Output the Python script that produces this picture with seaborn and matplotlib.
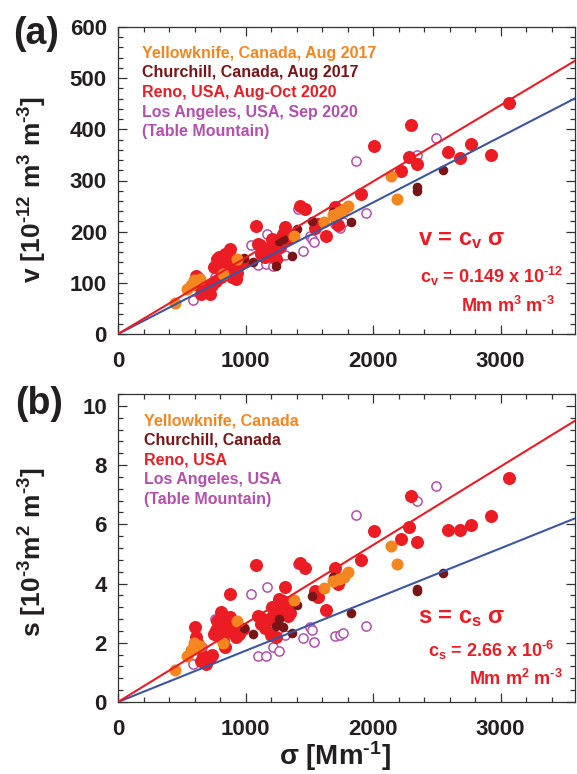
import numpy as np
import pandas as pd
import matplotlib
matplotlib.use("Agg")
import matplotlib.pyplot as plt
from matplotlib.ticker import MultipleLocator
import seaborn as sns

# ---------------- data ----------------
site_names = ["Yellowknife", "Churchill", "Reno", "Los Angeles"]

yk_sigma = [450, 540, 575, 595, 640, 822, 935, 1380, 1615, 1690, 1730, 1770, 1800, 2140, 2190]
yk_v = [60, 88, 95, 105, 108, 118, 147, 192, 218, 232, 238, 245, 251, 308, 264]
yk_s = [1.09, 1.57, 1.75, 1.99, 1.88, 1.99, 2.75, 3.43, 3.85, 4.10, 4.16, 4.21, 4.40, 5.26, 4.66]

ch_sigma = [990, 1060, 1240, 1260, 1295, 1365, 1400, 1520, 1690, 1825, 2345, 2345, 2545]
ch_v = [148, 140, 133, 182, 185, 153, 205, 220, 238, 219, 288, 279, 320]
ch_s = [2.50, 2.29, 2.58, 2.80, 2.53, 2.34, 3.26, 3.58, 4.21, 3.01, 3.80, 3.74, 4.35]

re_sigma = [3065, 2300, 2005, 2280, 2345, 2219, 2588, 2684, 2767, 2927, 1903, 1425, 1470, 1704,
            1080, 1313, 1544, 1566, 1628, 1729, 882,
            600, 615, 630, 648, 665, 690, 706, 720, 735, 750, 765, 778, 793, 805, 808, 820,
            836, 840, 862, 865, 879, 880, 893, 922, 935, 951, 977,
            1095, 1110, 1124, 1135, 1153, 1182, 1193, 1201, 1207, 1225, 1240, 1264, 1268,
            1297, 1322, 1336, 1350]
re_v = [451, 408, 367, 346, 333, 318, 356, 344, 372, 350, 274, 251, 244, 248,
        212, 210, 208, 215, 192, 214, 166,
        98, 114, 110, 78, 91, 82, 85, 78, 95, 130, 104, 147, 150, 137, 111, 125,
        157, 121, 143, 140, 130, 153, 111, 108, 120, 134, 140,
        175, 173, 157, 160, 150, 166, 170, 162, 185, 183, 147, 178, 170,
        196, 190, 186, 192]
re_s = [7.58, 6.97, 5.76, 5.92, 5.39, 5.51, 5.82, 5.82, 5.99, 6.27, 4.81, 4.69, 4.53, 4.52,
        4.61, 3.88, 3.76, 3.54, 3.09, 3.99, 3.65,
        2.53, 2.19, 1.95, 1.40, 1.57, 1.29, 1.45, 1.49, 1.60, 2.30, 2.42, 2.75, 2.60, 3.03, 2.19, 2.08,
        2.87, 1.85, 2.53, 2.40, 2.87, 2.70, 2.53, 2.19, 2.35, 2.30, 2.45,
        2.90, 2.87, 2.64, 2.75, 2.50, 2.81, 2.81, 2.25, 3.20, 3.10, 2.20, 3.48, 3.09,
        3.40, 3.31, 2.92, 3.00]

la_sigma = [590, 655, 760, 1040, 1100, 1158, 1172, 1212, 1264, 1307, 1412, 1450, 1505, 1520,
            1537, 1700, 1738, 1765, 1865, 1948, 2342, 2494]
la_v = [67, 95, 112, 173, 134, 137, 196, 132, 151, 155, 245, 163, 192, 185,
        180, 215, 207, 218, 338, 237, 350, 383]
la_s = [1.29, 1.85, 2.81, 3.63, 1.54, 1.57, 3.88, 1.85, 1.71, 2.25, 4.65, 2.16, 2.53, 2.42,
        2.02, 2.22, 2.27, 2.33, 6.33, 2.55, 6.80, 7.30]

# fit slopes (red: fit, blue: reference)
v_slope_red = 0.149
v_slope_blue = 0.1285
s_slope_red = 2.65e-3
s_slope_blue = 1.73e-3
fit_sigma = [0, 3700]

legend_a = ["Yellowknife, Canada, Aug 2017", "Churchill, Canada, Aug 2017",
            "Reno, USA, Aug-Oct 2020", "Los Angeles, USA, Sep 2020", "(Table Mountain)"]
legend_b = ["Yellowknife, Canada", "Churchill, Canada", "Reno, USA",
            "Los Angeles, USA", "(Table Mountain)"]

# ---------------- style ----------------
sns.set_style("ticks")
plt.rcParams["font.family"] = ["Liberation Sans", "DejaVu Sans"]
plt.rcParams["font.weight"] = "bold"
plt.rcParams["mathtext.fontset"] = "custom"
plt.rcParams["mathtext.rm"] = "Liberation Sans:bold"
plt.rcParams["mathtext.it"] = "Liberation Sans:bold"
plt.rcParams["mathtext.bf"] = "Liberation Sans:bold"
plt.rcParams["mathtext.default"] = "rm"

C_YK = "#F5861F"
C_CH = "#7A1517"
C_RE = "#EC1C24"
C_LA = "#B44FAE"
C_BLUE = "#3A56A5"
C_TXT = "#231F20"

frames = []
for name, sg, vv, ss in [("Yellowknife", yk_sigma, yk_v, yk_s),
                         ("Churchill", ch_sigma, ch_v, ch_s),
                         ("Reno", re_sigma, re_v, re_s),
                         ("Los Angeles", la_sigma, la_v, la_s)]:
    frames.append(pd.DataFrame({"site": name, "sigma": sg, "v": vv, "s": ss}))
df = pd.concat(frames, ignore_index=True)
lines = pd.DataFrame({"sigma": fit_sigma})
lines["v_red"] = lines["sigma"] * v_slope_red
lines["v_blue"] = lines["sigma"] * v_slope_blue
lines["s_red"] = lines["sigma"] * s_slope_red
lines["s_blue"] = lines["sigma"] * s_slope_blue

W, H = 577, 774
fig = plt.figure(figsize=(W / 100, H / 100), dpi=100)
ax_a = fig.add_axes([118 / W, 1 - 334 / H, (575 - 118) / W, (334 - 27) / H])
ax_b = fig.add_axes([118 / W, 1 - 702 / H, (575 - 118) / W, (702 - 394) / H])


def draw(ax, ycol, red_col, blue_col):
    d = df[df.site == "Los Angeles"]
    sns.scatterplot(data=d, x="sigma", y=ycol, ax=ax, marker="o", s=44,
                    facecolor="white", edgecolor=C_LA, linewidth=1.1, zorder=2, legend=False)
    d = df[df.site == "Reno"]
    sns.scatterplot(data=d, x="sigma", y=ycol, ax=ax, color=C_RE, s=88,
                    linewidth=0, zorder=3, legend=False)
    d = df[df.site == "Churchill"]
    sns.scatterplot(data=d, x="sigma", y=ycol, ax=ax, color=C_CH, s=48,
                    linewidth=0, zorder=4, legend=False)
    d = df[df.site == "Yellowknife"]
    sns.scatterplot(data=d, x="sigma", y=ycol, ax=ax, color=C_YK, s=75,
                    linewidth=0, zorder=5, legend=False)
    sns.lineplot(data=lines, x="sigma", y=blue_col, ax=ax, color=C_BLUE, lw=1.5, zorder=6)
    sns.lineplot(data=lines, x="sigma", y=red_col, ax=ax, color=C_RE, lw=1.5, zorder=7)
    ax.set_xlim(0, 3584)
    ax.xaxis.set_major_locator(MultipleLocator(1000))
    ax.xaxis.set_minor_locator(MultipleLocator(200))
    ax.tick_params(which="both", direction="in", top=True, right=True,
                   colors="#333333", labelcolor=C_TXT, labelsize=16, width=0.9)
    ax.tick_params(which="major", length=6.5)
    ax.tick_params(which="minor", length=3.5)
    ax.tick_params(axis="x", pad=12.5)
    ax.tick_params(axis="y", pad=8)
    for sp in ax.spines.values():
        sp.set_color("#333333")
        sp.set_linewidth(0.9)


draw(ax_a, "v", "v_red", "v_blue")
draw(ax_b, "s", "s_red", "s_blue")

ax_a.set_ylim(0, 600)
ax_a.yaxis.set_major_locator(MultipleLocator(100))
ax_a.yaxis.set_minor_locator(MultipleLocator(20))
ax_b.set_ylim(0, 10.4)
ax_b.yaxis.set_major_locator(MultipleLocator(2))
ax_b.yaxis.set_minor_locator(MultipleLocator(0.4))
for ax in (ax_a, ax_b):
    for lab in ax.get_xticklabels() + ax.get_yticklabels():
        lab.set_fontweight("bold")

ax_a.set_xlabel("")
ax_a.set_ylabel(r"v [10$^{\text{-12}}$ m$^{3}$ m$^{\text{-3}}$]", fontsize=19, fontweight="bold", color=C_TXT)
ax_a.yaxis.set_label_coords(-0.15, 0.47)
ax_b.set_ylabel(r"s [10$^{\text{-3}}$m$^{2}$ m$^{\text{-3}}$]", fontsize=19, fontweight="bold", color=C_TXT)
ax_b.yaxis.set_label_coords(-0.15, 0.485)
ax_b.set_xlabel(r"σ [Mm$^{\text{-1}}$]", fontsize=20, fontweight="bold", color=C_TXT)
ax_b.xaxis.set_label_coords(0.475, -0.122)

cols = [C_YK, C_CH, C_RE, C_LA, C_LA]
for ax, labels, x0, ys in [(ax_a, legend_a, 0.0525, [0.915, 0.853, 0.788, 0.723, 0.658]),
                           (ax_b, legend_b, 0.057, [0.912, 0.851, 0.786, 0.724, 0.659])]:
    for lab, c, y in zip(labels, cols, ys):
        ax.text(x0, y, lab, transform=ax.transAxes, color=c, fontsize=11.5,
                fontweight="bold", ha="left", va="center")

ax_a.text(0.656, 0.290, r"v = c$_{\mathregular{v}}$ σ", transform=ax_a.transAxes,
          color=C_RE, fontsize=17, fontweight="bold", ha="left", va="baseline")
ax_a.text(0.974, 0.166, r"c$_{\mathregular{v}}$ = 0.149 x 10$^{\text{-12}}$", transform=ax_a.transAxes,
          color=C_RE, fontsize=13, fontweight="bold", ha="right", va="baseline")
ax_a.text(0.955, 0.072, r"Mm m$^{3}$ m$^{\text{-3}}$", transform=ax_a.transAxes,
          color=C_RE, fontsize=13, fontweight="bold", ha="right", va="baseline")

ax_b.text(0.656, 0.256, r"s = c$_{\mathregular{s}}$ σ", transform=ax_b.transAxes,
          color=C_RE, fontsize=17, fontweight="bold", ha="left", va="baseline")
ax_b.text(0.954, 0.146, r"c$_{\mathregular{s}}$ = 2.66 x 10$^{\text{-6}}$", transform=ax_b.transAxes,
          color=C_RE, fontsize=13, fontweight="bold", ha="right", va="baseline")
ax_b.text(0.974, 0.055, r"Mm m$^{2}$ m$^{\text{-3}}$", transform=ax_b.transAxes,
          color=C_RE, fontsize=13, fontweight="bold", ha="right", va="baseline")

fig.text(13 / W, 1 - 34 / H, "(a)", fontsize=27, fontweight="bold", color=C_TXT,
         ha="left", va="center")
fig.text(15 / W, 1 - 404 / H, "(b)", fontsize=27, fontweight="bold", color=C_TXT,
         ha="left", va="center")

fig.savefig("out.png", dpi=100)
